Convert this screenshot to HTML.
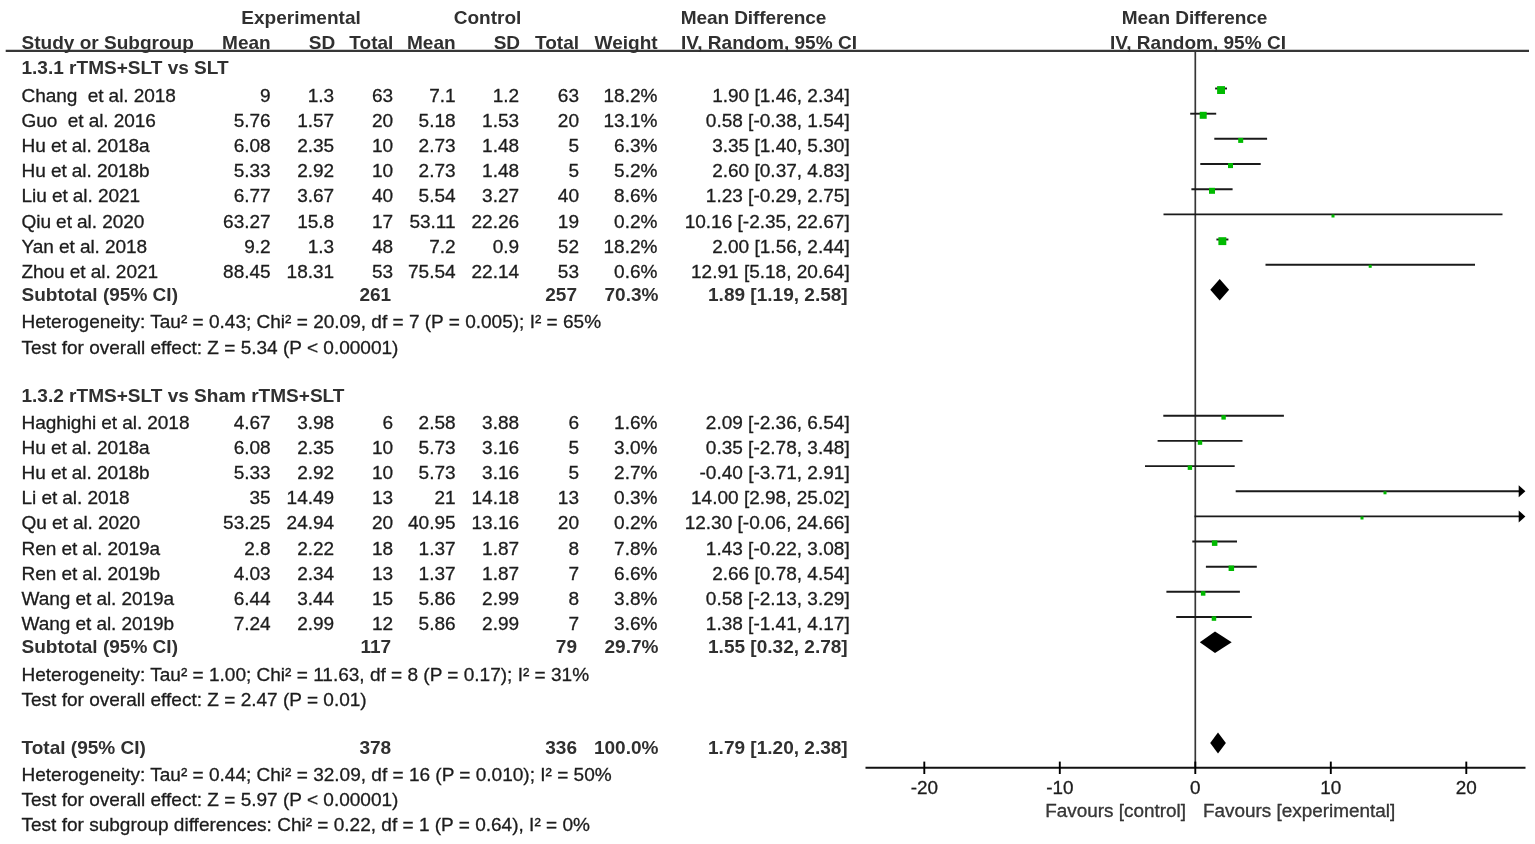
<!DOCTYPE html>
<html lang="en"><head><meta charset="utf-8"><title>Forest plot</title>
<style>
html,body{margin:0;padding:0;background:#fff;}
#wrap{position:relative;width:1535px;height:844px;overflow:hidden;background:#fff;font-family:"Liberation Sans",Arial,Helvetica,sans-serif;font-size:19.05px;color:#1c1c1c;}
.t{position:absolute;white-space:nowrap;line-height:22px;height:22px;-webkit-text-stroke:0.3px #1c1c1c;}
.b{font-weight:bold;color:#303030;-webkit-text-stroke:0;}
.ax{font-size:18.9px;}
.g{color:#3a3a3a;}
.n{letter-spacing:-0.07px;}
.md{letter-spacing:-0.1px;}
svg{position:absolute;left:0;top:0;}
#txt{position:absolute;left:0;top:0;width:1535px;height:844px;}
</style></head><body>
<div id="wrap">
<svg width="1535" height="844" viewBox="0 0 1535 844">
<line x1="5.7" y1="50.9" x2="1529" y2="50.9" stroke="#363636" stroke-width="2.1"/>
<line x1="1195.3" y1="50.7" x2="1195.3" y2="767.7" stroke="#363636" stroke-width="1.7"/>
<line x1="865.5" y1="767.7" x2="1525.5" y2="767.7" stroke="#111" stroke-width="1.9"/>
<line x1="1215.1" y1="88.5" x2="1227.0" y2="88.5" stroke="#1a1a1a" stroke-width="1.9"/>
<rect x="1217.1" y="86.1" width="7.9" height="7.9" fill="#00ba00"/>
<line x1="1190.2" y1="113.7" x2="1216.2" y2="113.7" stroke="#1a1a1a" stroke-width="1.9"/>
<rect x="1199.7" y="111.8" width="7" height="7" fill="#00ba00"/>
<line x1="1214.3" y1="138.8" x2="1267.1" y2="138.8" stroke="#1a1a1a" stroke-width="1.9"/>
<rect x="1238.2" y="137.9" width="5" height="5" fill="#00ba00"/>
<line x1="1200.3" y1="164.0" x2="1260.7" y2="164.0" stroke="#1a1a1a" stroke-width="1.9"/>
<rect x="1228.0" y="163.1" width="5" height="5" fill="#00ba00"/>
<line x1="1191.4" y1="189.2" x2="1232.6" y2="189.2" stroke="#1a1a1a" stroke-width="1.9"/>
<rect x="1209.0" y="187.8" width="6" height="6" fill="#00ba00"/>
<line x1="1163.5" y1="214.4" x2="1502.5" y2="214.4" stroke="#1a1a1a" stroke-width="1.9"/>
<rect x="1331.5" y="214.5" width="3" height="3" fill="#00ba00"/>
<line x1="1216.4" y1="239.5" x2="1228.4" y2="239.5" stroke="#1a1a1a" stroke-width="1.9"/>
<rect x="1218.4" y="237.2" width="7.9" height="7.9" fill="#00ba00"/>
<line x1="1265.5" y1="264.7" x2="1475.0" y2="264.7" stroke="#1a1a1a" stroke-width="1.9"/>
<rect x="1368.7" y="264.8" width="3" height="3" fill="#00ba00"/>
<polygon points="1210.3,289.8 1219.7,279.0 1229.1,289.8 1219.7,300.6" fill="#000"/>
<line x1="1163.3" y1="415.8" x2="1283.9" y2="415.8" stroke="#1a1a1a" stroke-width="1.9"/>
<rect x="1221.4" y="415.2" width="4.4" height="4.4" fill="#00ba00"/>
<line x1="1157.6" y1="440.9" x2="1242.5" y2="440.9" stroke="#1a1a1a" stroke-width="1.9"/>
<rect x="1197.8" y="440.4" width="4.4" height="4.4" fill="#00ba00"/>
<line x1="1145.0" y1="466.1" x2="1234.7" y2="466.1" stroke="#1a1a1a" stroke-width="1.9"/>
<rect x="1187.7" y="465.5" width="4.4" height="4.4" fill="#00ba00"/>
<line x1="1235.7" y1="491.2" x2="1519.5" y2="491.2" stroke="#1a1a1a" stroke-width="1.9"/>
<polygon points="1518.7,485.2 1525.4,491.2 1518.7,497.2" fill="#000"/>
<rect x="1383.5" y="491.3" width="3" height="3" fill="#00ba00"/>
<line x1="1194.5" y1="516.4" x2="1519.5" y2="516.4" stroke="#1a1a1a" stroke-width="1.9"/>
<polygon points="1518.7,510.4 1525.4,516.4 1518.7,522.4" fill="#000"/>
<rect x="1360.5" y="516.5" width="3" height="3" fill="#00ba00"/>
<line x1="1192.3" y1="541.5" x2="1237.0" y2="541.5" stroke="#1a1a1a" stroke-width="1.9"/>
<rect x="1211.9" y="540.4" width="5.5" height="5.5" fill="#00ba00"/>
<line x1="1205.9" y1="566.7" x2="1256.8" y2="566.7" stroke="#1a1a1a" stroke-width="1.9"/>
<rect x="1228.6" y="565.5" width="5.5" height="5.5" fill="#00ba00"/>
<line x1="1166.4" y1="591.8" x2="1239.9" y2="591.8" stroke="#1a1a1a" stroke-width="1.9"/>
<rect x="1200.9" y="591.2" width="4.5" height="4.5" fill="#00ba00"/>
<line x1="1176.2" y1="617.0" x2="1251.8" y2="617.0" stroke="#1a1a1a" stroke-width="1.9"/>
<rect x="1211.7" y="616.3" width="4.5" height="4.5" fill="#00ba00"/>
<polygon points="1199.8,642.3 1215.0,631.5 1231.7,642.3 1215.0,653.1" fill="#000"/>
<polygon points="1210.2,743.0 1218.0,732.4 1225.9,743.0 1218.0,753.6" fill="#000"/>
<line x1="924.3" y1="761.6" x2="924.3" y2="774" stroke="#000" stroke-width="1.9"/>
<line x1="1059.8" y1="761.6" x2="1059.8" y2="774" stroke="#000" stroke-width="1.9"/>
<line x1="1195.3" y1="761.6" x2="1195.3" y2="774" stroke="#000" stroke-width="1.9"/>
<line x1="1330.8" y1="761.6" x2="1330.8" y2="774" stroke="#000" stroke-width="1.9"/>
<line x1="1466.3" y1="761.6" x2="1466.3" y2="774" stroke="#000" stroke-width="1.9"/>
</svg>
<div id="txt">
<div class="t b" style="top:6.90px;left:1.00px;width:600px;text-align:center;">Experimental</div>
<div class="t b" style="top:6.90px;left:187.50px;width:600px;text-align:center;">Control</div>
<div class="t b md" style="top:6.90px;left:680.80px;">Mean Difference</div>
<div class="t b md" style="top:6.90px;left:894.60px;width:600px;text-align:center;">Mean Difference</div>
<div class="t b" style="top:32.10px;left:21.50px;">Study or Subgroup</div>
<div class="t b" style="top:32.10px;right:1264.30px;">Mean</div>
<div class="t b" style="top:32.10px;right:1199.80px;">SD</div>
<div class="t b" style="top:32.10px;right:1141.60px;">Total</div>
<div class="t b" style="top:32.10px;right:1079.40px;">Mean</div>
<div class="t b" style="top:32.10px;right:1014.90px;">SD</div>
<div class="t b" style="top:32.10px;right:956.00px;">Total</div>
<div class="t b" style="top:32.10px;right:877.40px;">Weight</div>
<div class="t b" style="top:32.10px;left:681.00px;">IV, Random, 95% CI</div>
<div class="t b" style="top:32.10px;left:898.00px;width:600px;text-align:center;">IV, Random, 95% CI</div>
<div class="t b" style="top:57.40px;left:21.50px;">1.3.1 rTMS+SLT vs SLT</div>
<div class="t n" style="top:84.90px;left:21.50px;">Chang  et al. 2018</div>
<div class="t" style="top:84.90px;right:1264.30px;">9</div>
<div class="t" style="top:84.90px;right:1200.80px;">1.3</div>
<div class="t" style="top:84.90px;right:1141.80px;">63</div>
<div class="t" style="top:84.90px;right:1079.40px;">7.1</div>
<div class="t" style="top:84.90px;right:1015.90px;">1.2</div>
<div class="t" style="top:84.90px;right:956.00px;">63</div>
<div class="t" style="top:84.90px;right:877.50px;">18.2%</div>
<div class="t" style="top:84.90px;right:685.30px;">1.90 [1.46, 2.34]</div>
<div class="t n" style="top:110.03px;left:21.50px;">Guo  et al. 2016</div>
<div class="t" style="top:110.03px;right:1264.30px;">5.76</div>
<div class="t" style="top:110.03px;right:1200.80px;">1.57</div>
<div class="t" style="top:110.03px;right:1141.80px;">20</div>
<div class="t" style="top:110.03px;right:1079.40px;">5.18</div>
<div class="t" style="top:110.03px;right:1015.90px;">1.53</div>
<div class="t" style="top:110.03px;right:956.00px;">20</div>
<div class="t" style="top:110.03px;right:877.50px;">13.1%</div>
<div class="t" style="top:110.03px;right:685.30px;">0.58 [-0.38, 1.54]</div>
<div class="t n" style="top:135.16px;left:21.50px;">Hu et al. 2018a</div>
<div class="t" style="top:135.16px;right:1264.30px;">6.08</div>
<div class="t" style="top:135.16px;right:1200.80px;">2.35</div>
<div class="t" style="top:135.16px;right:1141.80px;">10</div>
<div class="t" style="top:135.16px;right:1079.40px;">2.73</div>
<div class="t" style="top:135.16px;right:1015.90px;">1.48</div>
<div class="t" style="top:135.16px;right:956.00px;">5</div>
<div class="t" style="top:135.16px;right:877.50px;">6.3%</div>
<div class="t" style="top:135.16px;right:685.30px;">3.35 [1.40, 5.30]</div>
<div class="t n" style="top:160.29px;left:21.50px;">Hu et al. 2018b</div>
<div class="t" style="top:160.29px;right:1264.30px;">5.33</div>
<div class="t" style="top:160.29px;right:1200.80px;">2.92</div>
<div class="t" style="top:160.29px;right:1141.80px;">10</div>
<div class="t" style="top:160.29px;right:1079.40px;">2.73</div>
<div class="t" style="top:160.29px;right:1015.90px;">1.48</div>
<div class="t" style="top:160.29px;right:956.00px;">5</div>
<div class="t" style="top:160.29px;right:877.50px;">5.2%</div>
<div class="t" style="top:160.29px;right:685.30px;">2.60 [0.37, 4.83]</div>
<div class="t n" style="top:185.42px;left:21.50px;">Liu et al. 2021</div>
<div class="t" style="top:185.42px;right:1264.30px;">6.77</div>
<div class="t" style="top:185.42px;right:1200.80px;">3.67</div>
<div class="t" style="top:185.42px;right:1141.80px;">40</div>
<div class="t" style="top:185.42px;right:1079.40px;">5.54</div>
<div class="t" style="top:185.42px;right:1015.90px;">3.27</div>
<div class="t" style="top:185.42px;right:956.00px;">40</div>
<div class="t" style="top:185.42px;right:877.50px;">8.6%</div>
<div class="t" style="top:185.42px;right:685.30px;">1.23 [-0.29, 2.75]</div>
<div class="t n" style="top:210.55px;left:21.50px;">Qiu et al. 2020</div>
<div class="t" style="top:210.55px;right:1264.30px;">63.27</div>
<div class="t" style="top:210.55px;right:1200.80px;">15.8</div>
<div class="t" style="top:210.55px;right:1141.80px;">17</div>
<div class="t" style="top:210.55px;right:1079.40px;">53.11</div>
<div class="t" style="top:210.55px;right:1015.90px;">22.26</div>
<div class="t" style="top:210.55px;right:956.00px;">19</div>
<div class="t" style="top:210.55px;right:877.50px;">0.2%</div>
<div class="t" style="top:210.55px;right:685.30px;">10.16 [-2.35, 22.67]</div>
<div class="t n" style="top:235.68px;left:21.50px;">Yan et al. 2018</div>
<div class="t" style="top:235.68px;right:1264.30px;">9.2</div>
<div class="t" style="top:235.68px;right:1200.80px;">1.3</div>
<div class="t" style="top:235.68px;right:1141.80px;">48</div>
<div class="t" style="top:235.68px;right:1079.40px;">7.2</div>
<div class="t" style="top:235.68px;right:1015.90px;">0.9</div>
<div class="t" style="top:235.68px;right:956.00px;">52</div>
<div class="t" style="top:235.68px;right:877.50px;">18.2%</div>
<div class="t" style="top:235.68px;right:685.30px;">2.00 [1.56, 2.44]</div>
<div class="t n" style="top:260.81px;left:21.50px;">Zhou et al. 2021</div>
<div class="t" style="top:260.81px;right:1264.30px;">88.45</div>
<div class="t" style="top:260.81px;right:1200.80px;">18.31</div>
<div class="t" style="top:260.81px;right:1141.80px;">53</div>
<div class="t" style="top:260.81px;right:1079.40px;">75.54</div>
<div class="t" style="top:260.81px;right:1015.90px;">22.14</div>
<div class="t" style="top:260.81px;right:956.00px;">53</div>
<div class="t" style="top:260.81px;right:877.50px;">0.6%</div>
<div class="t" style="top:260.81px;right:685.30px;">12.91 [5.18, 20.64]</div>
<div class="t b" style="top:284.00px;left:21.50px;">Subtotal (95% CI)</div>
<div class="t b" style="top:284.00px;right:1143.80px;">261</div>
<div class="t b" style="top:284.00px;right:958.00px;">257</div>
<div class="t b" style="top:284.00px;right:876.50px;">70.3%</div>
<div class="t b" style="top:284.00px;right:687.30px;">1.89 [1.19, 2.58]</div>
<div class="t" style="top:311.20px;left:21.50px;">Heterogeneity: Tau² = 0.43; Chi² = 20.09, df = 7 (P = 0.005); I² = 65%</div>
<div class="t" style="top:336.70px;left:21.50px;">Test for overall effect: Z = 5.34 (P &lt; 0.00001)</div>
<div class="t b" style="top:384.70px;left:21.50px;">1.3.2 rTMS+SLT vs Sham rTMS+SLT</div>
<div class="t n" style="top:411.90px;left:21.50px;">Haghighi et al. 2018</div>
<div class="t" style="top:411.90px;right:1264.30px;">4.67</div>
<div class="t" style="top:411.90px;right:1200.80px;">3.98</div>
<div class="t" style="top:411.90px;right:1141.80px;">6</div>
<div class="t" style="top:411.90px;right:1079.40px;">2.58</div>
<div class="t" style="top:411.90px;right:1015.90px;">3.88</div>
<div class="t" style="top:411.90px;right:956.00px;">6</div>
<div class="t" style="top:411.90px;right:877.50px;">1.6%</div>
<div class="t" style="top:411.90px;right:685.30px;">2.09 [-2.36, 6.54]</div>
<div class="t n" style="top:437.03px;left:21.50px;">Hu et al. 2018a</div>
<div class="t" style="top:437.03px;right:1264.30px;">6.08</div>
<div class="t" style="top:437.03px;right:1200.80px;">2.35</div>
<div class="t" style="top:437.03px;right:1141.80px;">10</div>
<div class="t" style="top:437.03px;right:1079.40px;">5.73</div>
<div class="t" style="top:437.03px;right:1015.90px;">3.16</div>
<div class="t" style="top:437.03px;right:956.00px;">5</div>
<div class="t" style="top:437.03px;right:877.50px;">3.0%</div>
<div class="t" style="top:437.03px;right:685.30px;">0.35 [-2.78, 3.48]</div>
<div class="t n" style="top:462.16px;left:21.50px;">Hu et al. 2018b</div>
<div class="t" style="top:462.16px;right:1264.30px;">5.33</div>
<div class="t" style="top:462.16px;right:1200.80px;">2.92</div>
<div class="t" style="top:462.16px;right:1141.80px;">10</div>
<div class="t" style="top:462.16px;right:1079.40px;">5.73</div>
<div class="t" style="top:462.16px;right:1015.90px;">3.16</div>
<div class="t" style="top:462.16px;right:956.00px;">5</div>
<div class="t" style="top:462.16px;right:877.50px;">2.7%</div>
<div class="t" style="top:462.16px;right:685.30px;">-0.40 [-3.71, 2.91]</div>
<div class="t n" style="top:487.29px;left:21.50px;">Li et al. 2018</div>
<div class="t" style="top:487.29px;right:1264.30px;">35</div>
<div class="t" style="top:487.29px;right:1200.80px;">14.49</div>
<div class="t" style="top:487.29px;right:1141.80px;">13</div>
<div class="t" style="top:487.29px;right:1079.40px;">21</div>
<div class="t" style="top:487.29px;right:1015.90px;">14.18</div>
<div class="t" style="top:487.29px;right:956.00px;">13</div>
<div class="t" style="top:487.29px;right:877.50px;">0.3%</div>
<div class="t" style="top:487.29px;right:685.30px;">14.00 [2.98, 25.02]</div>
<div class="t n" style="top:512.42px;left:21.50px;">Qu et al. 2020</div>
<div class="t" style="top:512.42px;right:1264.30px;">53.25</div>
<div class="t" style="top:512.42px;right:1200.80px;">24.94</div>
<div class="t" style="top:512.42px;right:1141.80px;">20</div>
<div class="t" style="top:512.42px;right:1079.40px;">40.95</div>
<div class="t" style="top:512.42px;right:1015.90px;">13.16</div>
<div class="t" style="top:512.42px;right:956.00px;">20</div>
<div class="t" style="top:512.42px;right:877.50px;">0.2%</div>
<div class="t" style="top:512.42px;right:685.30px;">12.30 [-0.06, 24.66]</div>
<div class="t n" style="top:537.55px;left:21.50px;">Ren et al. 2019a</div>
<div class="t" style="top:537.55px;right:1264.30px;">2.8</div>
<div class="t" style="top:537.55px;right:1200.80px;">2.22</div>
<div class="t" style="top:537.55px;right:1141.80px;">18</div>
<div class="t" style="top:537.55px;right:1079.40px;">1.37</div>
<div class="t" style="top:537.55px;right:1015.90px;">1.87</div>
<div class="t" style="top:537.55px;right:956.00px;">8</div>
<div class="t" style="top:537.55px;right:877.50px;">7.8%</div>
<div class="t" style="top:537.55px;right:685.30px;">1.43 [-0.22, 3.08]</div>
<div class="t n" style="top:562.68px;left:21.50px;">Ren et al. 2019b</div>
<div class="t" style="top:562.68px;right:1264.30px;">4.03</div>
<div class="t" style="top:562.68px;right:1200.80px;">2.34</div>
<div class="t" style="top:562.68px;right:1141.80px;">13</div>
<div class="t" style="top:562.68px;right:1079.40px;">1.37</div>
<div class="t" style="top:562.68px;right:1015.90px;">1.87</div>
<div class="t" style="top:562.68px;right:956.00px;">7</div>
<div class="t" style="top:562.68px;right:877.50px;">6.6%</div>
<div class="t" style="top:562.68px;right:685.30px;">2.66 [0.78, 4.54]</div>
<div class="t n" style="top:587.81px;left:21.50px;">Wang et al. 2019a</div>
<div class="t" style="top:587.81px;right:1264.30px;">6.44</div>
<div class="t" style="top:587.81px;right:1200.80px;">3.44</div>
<div class="t" style="top:587.81px;right:1141.80px;">15</div>
<div class="t" style="top:587.81px;right:1079.40px;">5.86</div>
<div class="t" style="top:587.81px;right:1015.90px;">2.99</div>
<div class="t" style="top:587.81px;right:956.00px;">8</div>
<div class="t" style="top:587.81px;right:877.50px;">3.8%</div>
<div class="t" style="top:587.81px;right:685.30px;">0.58 [-2.13, 3.29]</div>
<div class="t n" style="top:612.94px;left:21.50px;">Wang et al. 2019b</div>
<div class="t" style="top:612.94px;right:1264.30px;">7.24</div>
<div class="t" style="top:612.94px;right:1200.80px;">2.99</div>
<div class="t" style="top:612.94px;right:1141.80px;">12</div>
<div class="t" style="top:612.94px;right:1079.40px;">5.86</div>
<div class="t" style="top:612.94px;right:1015.90px;">2.99</div>
<div class="t" style="top:612.94px;right:956.00px;">7</div>
<div class="t" style="top:612.94px;right:877.50px;">3.6%</div>
<div class="t" style="top:612.94px;right:685.30px;">1.38 [-1.41, 4.17]</div>
<div class="t b" style="top:635.50px;left:21.50px;">Subtotal (95% CI)</div>
<div class="t b" style="top:635.50px;right:1143.80px;">117</div>
<div class="t b" style="top:635.50px;right:958.00px;">79</div>
<div class="t b" style="top:635.50px;right:876.50px;">29.7%</div>
<div class="t b" style="top:635.50px;right:687.30px;">1.55 [0.32, 2.78]</div>
<div class="t" style="top:663.70px;left:21.50px;">Heterogeneity: Tau² = 1.00; Chi² = 11.63, df = 8 (P = 0.17); I² = 31%</div>
<div class="t" style="top:688.70px;left:21.50px;">Test for overall effect: Z = 2.47 (P = 0.01)</div>
<div class="t b" style="top:736.70px;left:21.50px;">Total (95% CI)</div>
<div class="t b" style="top:736.70px;right:1143.80px;">378</div>
<div class="t b" style="top:736.70px;right:958.00px;">336</div>
<div class="t b" style="top:736.70px;right:876.50px;">100.0%</div>
<div class="t b" style="top:736.70px;right:687.30px;">1.79 [1.20, 2.38]</div>
<div class="t" style="top:763.70px;left:21.50px;">Heterogeneity: Tau² = 0.44; Chi² = 32.09, df = 16 (P = 0.010); I² = 50%</div>
<div class="t" style="top:789.00px;left:21.50px;">Test for overall effect: Z = 5.97 (P &lt; 0.00001)</div>
<div class="t" style="top:814.20px;left:21.50px;">Test for subgroup differences: Chi² = 0.22, df = 1 (P = 0.64), I² = 0%</div>
<div class="t ax" style="top:777.10px;left:624.30px;width:600px;text-align:center;">-20</div>
<div class="t ax" style="top:777.10px;left:759.80px;width:600px;text-align:center;">-10</div>
<div class="t ax" style="top:777.10px;left:895.30px;width:600px;text-align:center;">0</div>
<div class="t ax" style="top:777.10px;left:1030.80px;width:600px;text-align:center;">10</div>
<div class="t ax" style="top:777.10px;left:1166.30px;width:600px;text-align:center;">20</div>
<div class="t ax g" style="top:799.50px;right:349.00px;">Favours [control]</div>
<div class="t ax g" style="top:799.50px;left:1203.00px;">Favours [experimental]</div>
</div>
</div>
</body></html>
